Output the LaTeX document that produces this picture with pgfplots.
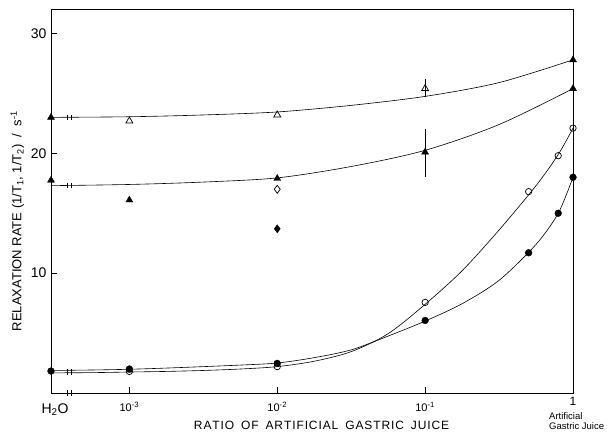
\documentclass[border=0pt]{standalone}
\usepackage{pgfplots}
\pgfplotsset{compat=1.18}
\usepackage{fontspec}
\setmainfont{Liberation Sans}
\newcommand{\ls}[1]{#1\kern0.9pt}
\begin{document}
\begin{tikzpicture}
\begin{axis}[
  name=ax,
  scale only axis,
  width=522pt, height=383.5pt,
  xmin=-3.53, xmax=0, ymin=0, ymax=32,
  axis line style={line width=0.8pt},
  clip=false,
  xtick={-3,-2,-1},
  xticklabels={10\textsuperscript{-3},10\textsuperscript{-2},10\textsuperscript{-1}},
  extra x ticks={-3.53},
  extra x tick labels={\hspace*{8pt}\fontsize{14}{14}\selectfont H\textsubscript{2}O},
  extra x tick style={major tick length=0pt, tick label style={yshift=-1pt}},
  ytick={10,20,30},
  tick align=inside,
  xtick pos=bottom, ytick pos=left,
  major tick length=6pt,
  tick style={line width=0.8pt, black},
  /pgf/number format/assume math mode=true,
  yticklabel style={font=\fontsize{14}{14}\selectfont, xshift=-1pt},
  xticklabel style={font=\fontsize{11}{11}\selectfont, yshift=-6pt},
  xlabel={\ls R\ls A\ls T\ls I\ls O\enspace\ls O\ls F\enspace\ls A\ls R\ls T\ls I\ls F\ls I\ls C\ls I\ls A\ls L\enspace\ls G\ls A\ls S\ls T\ls R\ls I\ls C\enspace\ls J\ls U\ls I\ls C\ls E},
  xlabel style={font=\fontsize{12}{12}\selectfont, yshift=1pt, xshift=10pt},
  ylabel={RELAXATION RATE (1/T\textsubscript{1}, 1/T\textsubscript{2}) \ /\ \ s\textsuperscript{-1}},
  ylabel style={font=\fontsize{13}{13}\selectfont, yshift=0pt, xshift=-20pt},
]
% curves
\addplot[smooth, black, line width=0.6pt] coordinates {
(-3.53,23.0) (-3.0,23.05) (-2.5,23.2) (-2.0,23.45) (-1.5,24.0) (-1.0,24.75) (-0.5,25.9) (0,27.8)};
\addplot[smooth, black, line width=0.6pt] coordinates {
(-3.53,17.3) (-3.0,17.4) (-2.5,17.6) (-2.0,17.95) (-1.5,18.9) (-1.0,20.25) (-0.5,22.4) (0,25.4)};
\addplot[smooth, black, line width=0.6pt] coordinates {
(-3.53,1.68) (-3.25,1.7) (-3.0,1.75) (-2.75,1.8) (-2.5,1.88) (-2.25,2.0) (-2.0,2.2) (-1.75,2.65) (-1.5,3.45) (-1.25,4.95) (-1.0,7.4) (-0.75,10.2) (-0.5,13.6) (-0.25,17.3) (-0.1,19.9) (0,22.1)};
\addplot[smooth, black, line width=0.6pt] coordinates {
(-3.53,1.88) (-3.25,1.92) (-3.0,1.98) (-2.75,2.08) (-2.5,2.2) (-2.25,2.33) (-2.0,2.5) (-1.75,2.95) (-1.5,3.6) (-1.25,4.75) (-1.0,6.0) (-0.75,7.45) (-0.5,9.4) (-0.25,12.4) (-0.1,15.0) (0,18.0)};
% break marks
\addplot[only marks, mark=|, mark size=2.8pt, mark options={line width=0.6pt}] coordinates {
(-3.42,0) (-3.395,0) (-3.42,23.0) (-3.395,23.0) (-3.42,17.3) (-3.395,17.3) (-3.42,1.75) (-3.395,1.75)};
% error bars
\addplot[black, line width=0.6pt, mark=none] coordinates {(-1,24.7) (-1,26.2)};
\addplot[black, line width=0.6pt, mark=none] coordinates {(-1,18.0) (-1,22.05)};
% open triangles
\addplot[only marks, mark=triangle, mark size=4pt, mark options={fill=white, line width=0.7pt}] coordinates {
(-3,22.7) (-2,23.2) (-1,25.4)};
% filled triangles
\addplot[only marks, mark=triangle*, mark size=4pt, mark options={fill=black}] coordinates {
(-3.53,23.0) (-3.53,17.75) (-3,16.1) (-2,17.9) (-1,20.1) (0,27.8) (0,25.4)};
% open circles
\addplot[only marks, mark=o, mark size=3.2pt, mark options={fill=white, line width=0.7pt}] coordinates {
(-3,1.8) (-2,2.2) (-1,7.56) (-0.3,16.8) (-0.1,19.8) (0,22.1)};
% filled circles
\addplot[only marks, mark=*, mark size=3.4pt, mark options={fill=black}] coordinates {
(-3.53,1.83) (-3,2.0) (-2,2.47) (-1,6.05) (-0.3,11.7) (-0.1,15.0) (0,18.0)};
% diamonds
\addplot[only marks, mark=diamond, mark size=4pt, mark options={fill=white, line width=0.7pt}] coordinates {(-2,17.0)};
\addplot[only marks, mark=diamond*, mark size=4pt, mark options={fill=black}] coordinates {(-2,13.7)};
\node[anchor=north, inner sep=0pt, font=\fontsize{12}{12}\selectfont] at ([yshift=-4pt]rel axis cs:1,0) {1};
\node[anchor=north west, align=left, inner sep=0pt, font=\fontsize{9.5}{10}\selectfont] at ([xshift=-24pt,yshift=-19pt]rel axis cs:1,0) {Artificial\\Gastric Juice};
\end{axis}
\pgfresetboundingbox
\path[use as bounding box] ([xshift=-51pt,yshift=-44pt]ax.south west) rectangle ([xshift=34pt,yshift=9.5pt]ax.north east);
\end{tikzpicture}
\end{document}
